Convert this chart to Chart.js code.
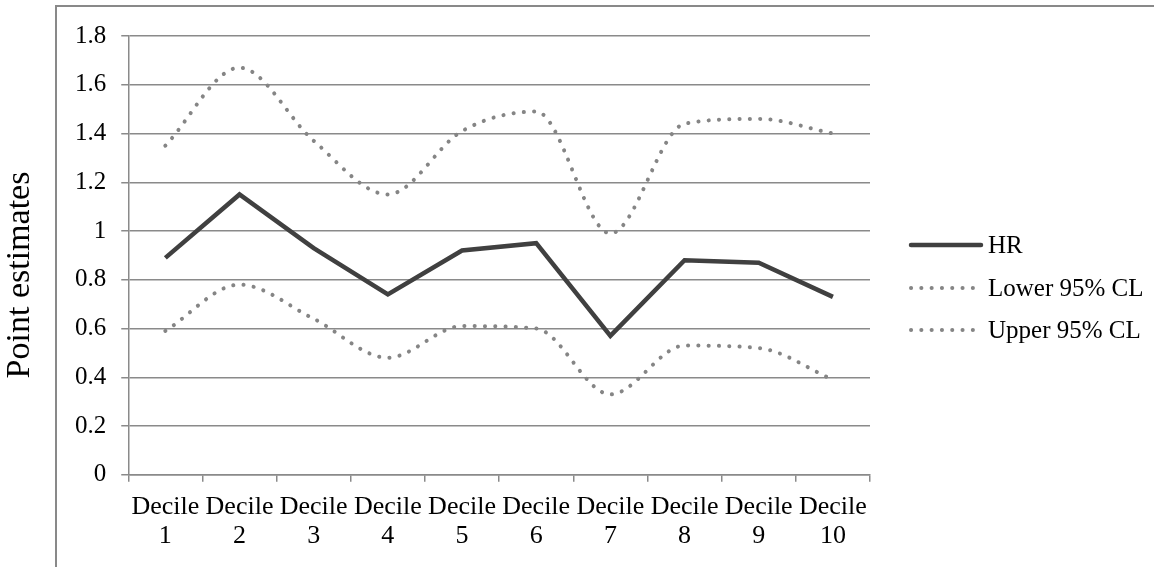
<!DOCTYPE html>
<html>
<head>
<meta charset="utf-8">
<script src="https://cdn.jsdelivr.net/npm/chart.js@4/dist/chart.umd.min.js"></script>
<style>
  html, body { margin: 0; padding: 0; background: #fff; }
  #wrap { position: relative; width: 1154px; height: 567px; overflow: hidden; }
  #frame { position: absolute; left: 55px; top: 5px; width: 1200px; height: 700px;
           border-left: 2px solid #898989; border-top: 2px solid #898989; }
  #chart { position: absolute; left: 0; top: 0; }
</style>
</head>
<body>
<div id="wrap">
  <div id="frame"></div>
  <canvas id="chart" width="1154" height="567"></canvas>
</div>
<script>
const deciles = [['Decile', '1'], ['Decile', '2'], ['Decile', '3'], ['Decile', '4'], ['Decile', '5'],
                 ['Decile', '6'], ['Decile', '7'], ['Decile', '8'], ['Decile', '9'], ['Decile', '10']];
const hrValues = [0.89, 1.15, 0.93, 0.74, 0.92, 0.95, 0.57, 0.88, 0.87, 0.73];
const lowerValues = [0.59, 0.78, 0.64, 0.48, 0.61, 0.60, 0.33, 0.53, 0.52, 0.39];
const upperValues = [1.35, 1.67, 1.37, 1.15, 1.41, 1.49, 0.99, 1.44, 1.46, 1.40];
const seriesNames = ['HR', 'Lower 95% CL', 'Upper 95% CL'];
const axisTitle = 'Point estimates';

const serif = "'Liberation Serif', 'Times New Roman', serif";
const gridGray = '#8a8a8a';

// y title sits a bit below the plot centre, like the original
const yTitlePlugin = {
    id: 'yTitle',
    afterDraw(chart) {
        const ctx = chart.ctx;
        ctx.save();
        ctx.translate(20, 275);
        ctx.rotate(-Math.PI / 2);
        ctx.font = '34px ' + serif;
        ctx.fillStyle = '#000';
        ctx.textAlign = 'center';
        ctx.textBaseline = 'middle';
        ctx.fillText(axisTitle, 0, 0);
        ctx.restore();
    }
};

// legend on the right, line samples use the dataset styles
const sideLegend = {
    id: 'sideLegend',
    afterDraw(chart) {
        const ctx = chart.ctx;
        const x0 = chart.chartArea.right + 41;
        const rows = [245, 288, 330];
        chart.data.datasets.forEach((ds, i) => {
            const y = rows[i];
            ctx.save();
            ctx.strokeStyle = ds.borderColor;
            ctx.lineWidth = ds.borderWidth;
            ctx.lineCap = 'round';
            ctx.setLineDash(ds.borderDash || []);
            ctx.beginPath();
            ctx.moveTo(x0, y);
            ctx.lineTo(x0 + 70, y);
            ctx.stroke();
            ctx.setLineDash([]);
            ctx.font = '25px ' + serif;
            ctx.fillStyle = '#000';
            ctx.textBaseline = 'middle';
            ctx.fillText(ds.label, x0 + 77, y + 1);
            ctx.restore();
        });
    }
};

new Chart(document.getElementById('chart'), {
    type: 'line',
    data: {
        labels: deciles,
        datasets: [
            { label: seriesNames[0], data: hrValues, borderColor: '#404040', borderWidth: 4.5,
              tension: 0, pointRadius: 0, borderJoinStyle: 'miter' },
            { label: seriesNames[1], data: lowerValues, borderColor: '#858585', borderWidth: 4,
              borderDash: [0.1, 10.2], borderCapStyle: 'round', cubicInterpolationMode: 'monotone', pointRadius: 0 },
            { label: seriesNames[2], data: upperValues, borderColor: '#858585', borderWidth: 4,
              borderDash: [0.1, 10.2], borderCapStyle: 'round', cubicInterpolationMode: 'monotone', pointRadius: 0 }
        ]
    },
    options: {
        responsive: false,
        animation: false,
        layout: { padding: { left: 60, top: 36, right: 284, bottom: 6 } },
        plugins: { legend: { display: false }, tooltip: { enabled: false } },
        scales: {
            x: {
                offset: true,
                grid: { offset: true, drawOnChartArea: false, color: gridGray, lineWidth: 1.5, tickLength: 7 },
                border: { color: gridGray, width: 1.5 },
                ticks: { color: '#000', font: { family: serif, size: 26, lineHeight: 1.1 },
                         maxRotation: 0, autoSkip: false, padding: 11 }
            },
            y: {
                min: 0, max: 1.8,
                grid: { color: gridGray, lineWidth: 1.5, tickLength: 7 },
                border: { color: gridGray, width: 1.5 },
                ticks: { stepSize: 0.2, color: '#000', font: { family: serif, size: 25 }, padding: 15,
                         callback: v => String(Math.round(v * 10) / 10) }
            }
        }
    },
    plugins: [yTitlePlugin, sideLegend]
});
</script>
</body>
</html>
